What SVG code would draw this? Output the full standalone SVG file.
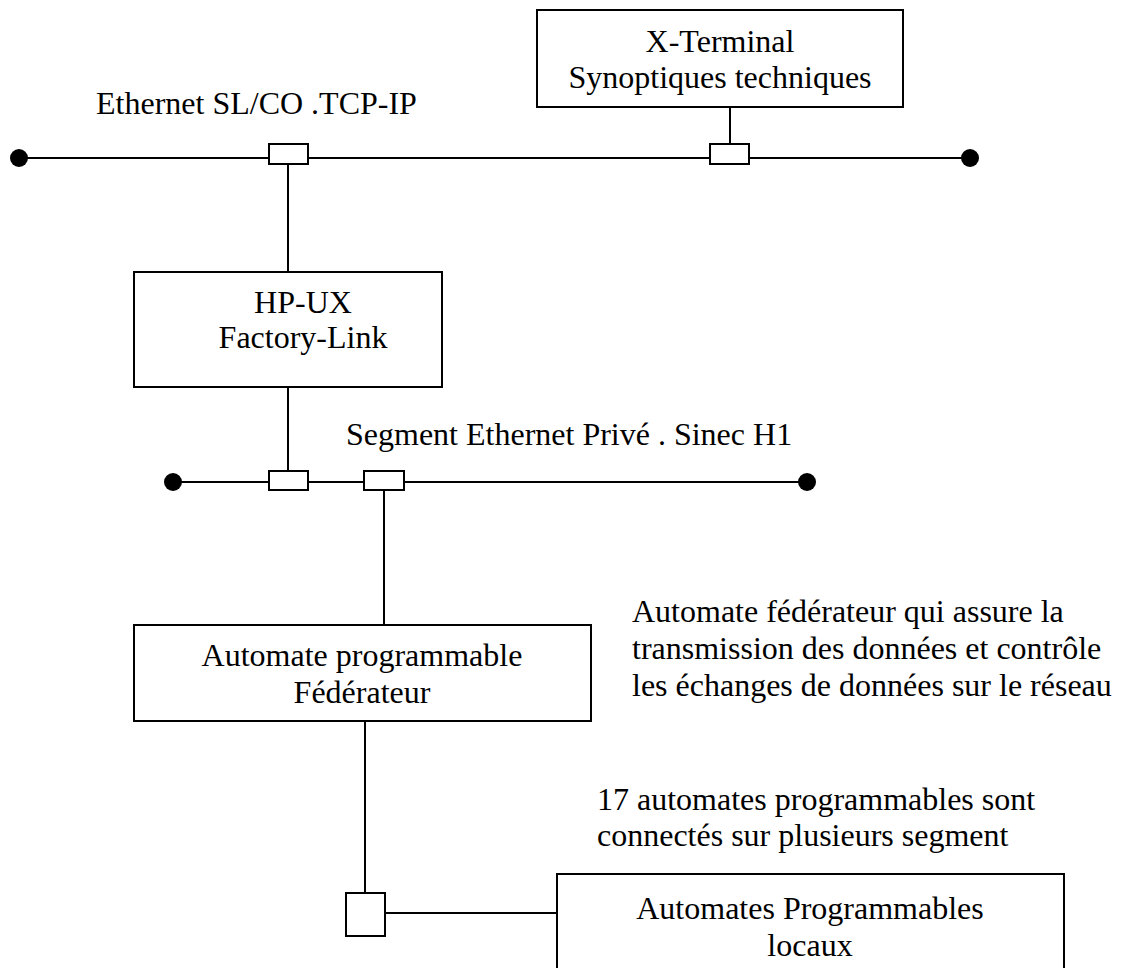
<svg xmlns="http://www.w3.org/2000/svg" width="1123" height="968" viewBox="0 0 1123 968">
<style>
  .box { fill: #ffffff; stroke: #000000; stroke-width: 2; }
  .tap { fill: #ffffff; stroke: #000000; stroke-width: 2; }
  .wire { stroke: #000000; stroke-width: 2; fill: none; }
  .dot { fill: #000000; }
  text { font-family: "Liberation Serif", "Times New Roman", serif; font-size: 32px; fill: #000000; }
  .c { text-anchor: middle; }
</style>
<rect width="1123" height="968" fill="#ffffff"/>

<g id="connectors">
  <!-- top bus -->
  <line class="wire" x1="19" y1="158" x2="970" y2="158"/>
  <circle class="dot" cx="19" cy="158" r="9"/>
  <circle class="dot" cx="970" cy="158" r="9"/>
  <line class="wire" x1="730" y1="107" x2="730" y2="144"/>
  <line class="wire" x1="288" y1="164" x2="288" y2="272"/>
  <line class="wire" x1="288" y1="387" x2="288" y2="471"/>
  <!-- private segment bus -->
  <line class="wire" x1="173" y1="482" x2="807" y2="482"/>
  <circle class="dot" cx="173" cy="482" r="9"/>
  <circle class="dot" cx="807" cy="482" r="9"/>
  <line class="wire" x1="384" y1="490" x2="384" y2="625"/>
  <line class="wire" x1="365" y1="721" x2="365" y2="893"/>
  <line class="wire" x1="385" y1="913" x2="557" y2="913"/>
  <!-- taps -->
  <rect class="tap" x="269" y="144" width="39" height="20"/>
  <rect class="tap" x="710" y="144" width="39" height="20"/>
  <rect class="tap" x="269" y="471" width="39" height="19"/>
  <rect class="tap" x="364" y="471" width="40" height="19"/>
  <rect class="tap" x="346" y="893" width="39" height="43"/>
</g>

<g id="label-ethernet">
  <text x="96" y="114">Ethernet SL/CO .TCP-IP</text>
</g>

<g id="node-xterminal">
  <rect class="box" x="537" y="10" width="366" height="97"/>
  <text class="c" x="720" y="52">X-Terminal</text>
  <text class="c" x="720" y="88">Synoptiques techniques</text>
</g>

<g id="node-hpux">
  <rect class="box" x="134" y="272" width="308" height="115"/>
  <text class="c" x="303" y="313">HP-UX</text>
  <text class="c" x="303" y="348">Factory-Link</text>
</g>

<g id="label-segment">
  <text x="346" y="445">Segment Ethernet Privé . Sinec H1</text>
</g>

<g id="node-federateur">
  <rect class="box" x="134" y="625" width="457" height="96"/>
  <text class="c" x="362" y="666">Automate programmable</text>
  <text class="c" x="362" y="703">Fédérateur</text>
</g>

<g id="label-federateur-note">
  <text x="632" y="622">Automate fédérateur qui assure la</text>
  <text x="632" y="659">transmission des données et contrôle</text>
  <text x="632" y="696">les échanges de données sur le réseau</text>
</g>

<g id="label-17">
  <text x="597" y="810">17 automates programmables sont</text>
  <text x="597" y="846">connectés sur plusieurs segment</text>
</g>

<g id="node-locaux">
  <rect class="box" x="557" y="874" width="507" height="110"/>
  <text class="c" x="810" y="919">Automates Programmables</text>
  <text class="c" x="810" y="956">locaux</text>
</g>
</svg>
